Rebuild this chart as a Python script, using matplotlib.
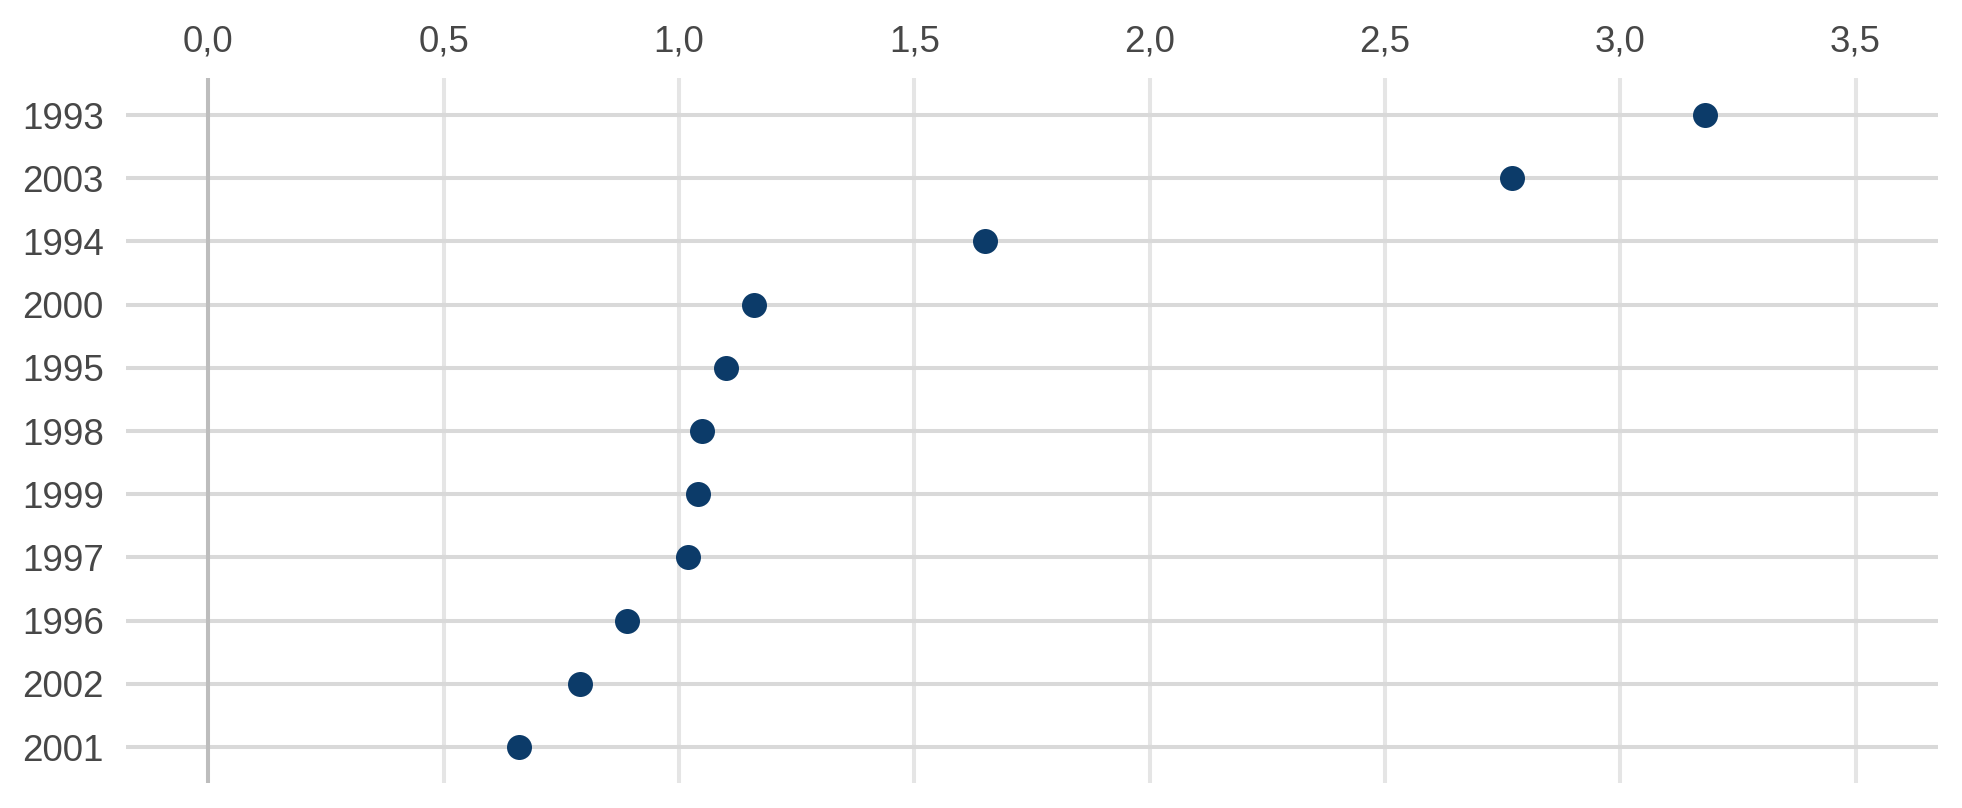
import matplotlib.pyplot as plt
from matplotlib.ticker import FuncFormatter

years = ["1993", "2003", "1994", "2000", "1995", "1998", "1999", "1997", "1996", "2002", "2001"]
values = [3.18, 2.77, 1.65, 1.16, 1.10, 1.05, 1.04, 1.02, 0.89, 0.79, 0.66]
xticks = [0.0, 0.5, 1.0, 1.5, 2.0, 2.5, 3.0, 3.5]

plt.rcParams['font.family'] = ['Liberation Sans', 'DejaVu Sans']

fig = plt.figure(figsize=(19.62, 8.08), dpi=100)
ax = fig.add_axes([0.0642, 0.0309, 0.9235, 0.8725])

pos = list(range(len(years)))
ax.set_xlim(-0.175, 3.675)
ax.set_ylim(10.57, -0.585)

# grid
for y in pos:
    ax.axhline(y, color='#d9d9d9', lw=2.9, zorder=1)
for x in xticks:
    c = '#bdbdbd' if x == 0 else '#e5e5e5'
    ax.axvline(x, color=c, lw=2.9, zorder=1.5 if x == 0 else 0.5)

ax.plot(values, pos, 'o', color='#0c3b69', markersize=18, markeredgewidth=0, zorder=3)

ax.set_yticks(pos)
ax.set_yticklabels(years)
ax.set_xticks(xticks)
ax.xaxis.set_major_formatter(FuncFormatter(lambda v, p: f"{v:.1f}".replace('.', ',')))
ax.xaxis.tick_top()
ax.tick_params(axis='both', length=0, labelsize=26.5, labelcolor='#474747')
ax.tick_params(axis='x', pad=13)
ax.tick_params(axis='y', pad=16)
for s in ax.spines.values():
    s.set_visible(False)

fig.savefig('out.png', dpi=100, facecolor='white')
